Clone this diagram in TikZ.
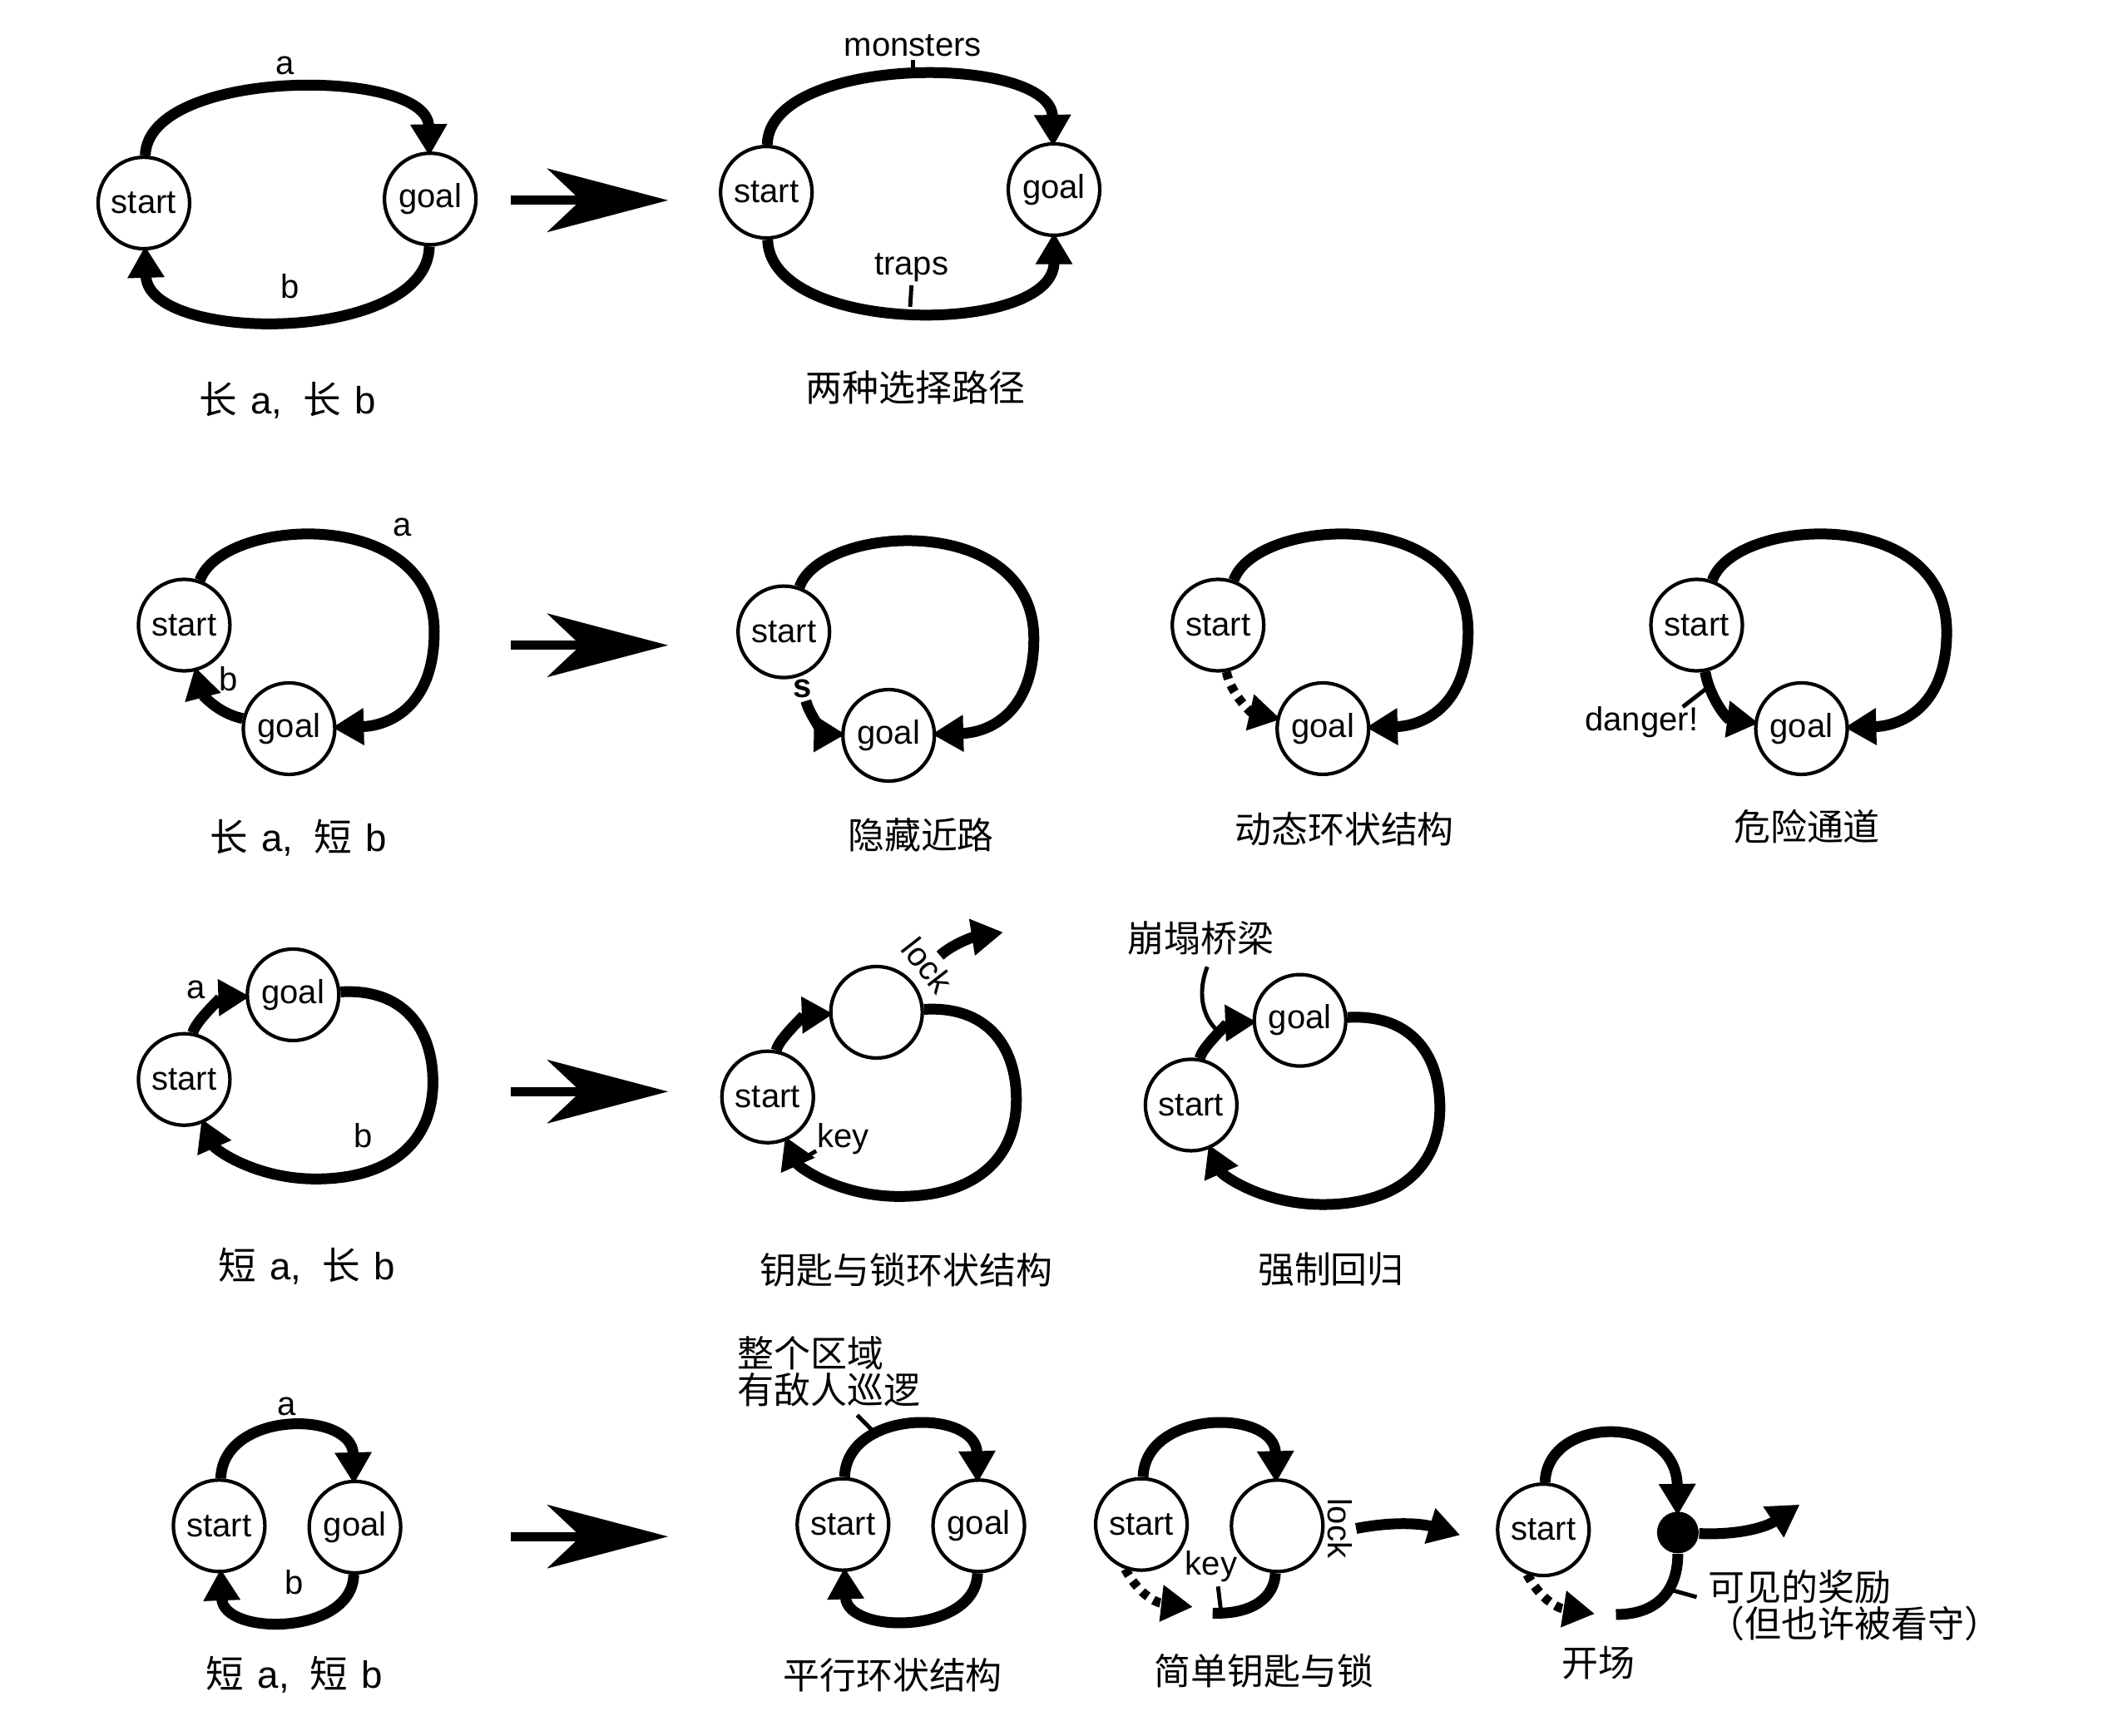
\documentclass[tikz,border=0pt]{standalone}
\usepackage{fontspec}
\setmainfont{Liberation Sans}
\newfontfamily\cjk{Noto Sans CJK SC}
\usetikzlibrary{arrows.meta}
\newcommand{\pairlabel}[2]{{\cjk #1}\hspace{0.35em}a,\hspace{0.55em}{\cjk #2}\hspace{0.35em}b}

\begin{document}
\begin{tikzpicture}[x=0.01616cm, y=-0.01616cm,
    room/.style={circle, draw, line width=1.2pt, minimum size=1.1cm, inner sep=0pt, fill=white, font=\fontsize{11.4}{13}\selectfont},
    treasure/.style={circle, fill=black, minimum size=0.5cm, inner sep=0pt},
    lbl/.style={inner sep=1pt, font=\fontsize{11.4}{13}\selectfont},
    subcap/.style={inner sep=1pt, font=\cjk\fontsize{12.5}{12.5}\selectfont},
    pairs/.style={inner sep=1pt, font=\fontsize{13}{14}\selectfont},
    trail/.style={line width=0.13cm},
    route/.style={trail, shorten >=-1.5pt, -{Triangle[length=0.38cm,width=0.42cm]}},
    dotroute/.style={route, line width=0.11cm, dash pattern=on 0.09cm off 0.08cm},
    leader/.style={line width=1.4pt},
    bigarrow/.style={line width=0.11cm, -{Stealth[length=1.45cm,width=0.76cm,inset=0.4cm]}}]
    \useasboundingbox (0,0) rectangle (1568,1291);

    % big arrows between the columns
    \foreach \y [count=\i] in {149,480,812,1143} {
        \coordinate (tail\i) at (380,\y);
        \coordinate (head\i) at (497,\y);
        \draw[bigarrow] (tail\i) -- (head\i);
    }

    % long a, long b
    \node[room] (start1) at (107,151) {start};
    \node[room] (goal1) at (320,148) {goal};
    \draw[route] (start1) .. controls (110,50) and (318,50) .. (goal1);
    \draw[route] (goal1) .. controls (318,256) and (110,256) .. (start1);
    \node[lbl] (la1) at (212,49) {a};
    \node[lbl] (lb1) at (216,213) {b};
    \node[pairs] (cap1) at (214,298) {\pairlabel{长}{长}};

    % two choices
    \node[room] (start2) at (570,143) {start};
    \node[room] (goal2) at (784,141) {goal};
    \draw[route] (start2) .. controls (572,40) and (782,40) .. (goal2);
    \draw[route] (start2) .. controls (573,250) and (784,250) .. (goal2);
    \node[lbl] (monsters) at (679,34) {monsters};
    \draw[leader] (monsters.south) -- ++(0,11);
    \node[lbl] (traps) at (678,199) {traps};
    \draw[leader] (traps.south) -- ++(-1,16);
    \node[subcap] (cap2) at (681,288) {两种选择路径};

    % long a, short b
    \node[room] (start3) at (137,465) {start};
    \node[room] (goal3) at (215,542) {goal};
    \draw[route] (start3) .. controls (165,385) and (323,375) .. (323,470) .. controls (323,525) and (290,540) .. (goal3);
    \draw[route] (goal3) .. controls (160,530) and (150,515) .. (start3);
    \node[lbl] (la3) at (299,392) {a};
    \node[lbl] (lb3) at (170,505) {b};
    \node[pairs] (cap3) at (222,623) {\pairlabel{长}{短}};

    % hidden shortcut
    \begin{scope}[shift={(446,5)}]
        \node[room] (start4) at (137,465) {start};
        \node[room] (goal4) at (215,542) {goal};
        \draw[route] (start4) .. controls (165,385) and (323,375) .. (323,470) .. controls (323,525) and (290,540) .. (goal4);
        \node[lbl, font=\fontsize{11.4}{13}\selectfont\bfseries] (secret4) at (151,507) {s};
        \draw[route] (secret4) .. controls (157,530) and (170,541) .. (goal4);
    \end{scope}
    \node[subcap] (cap4) at (685,621) {隐藏近路};

    % dynamic loop
    \begin{scope}[shift={(769,0)}]
        \node[room] (start5) at (137,465) {start};
        \node[room] (goal5) at (215,542) {goal};
        \draw[route] (start5) .. controls (165,385) and (323,375) .. (323,470) .. controls (323,525) and (290,540) .. (goal5);
        \draw[dotroute] (start5) .. controls (146,515) and (161,530) .. (goal5);
    \end{scope}
    \node[subcap] (cap5) at (1000,617) {动态环状结构};

    % dangerous passage
    \begin{scope}[shift={(1125,0)}]
        \node[room] (start6) at (137,465) {start};
        \node[room] (goal6) at (215,542) {goal};
        \draw[route] (start6) .. controls (165,385) and (323,375) .. (323,470) .. controls (323,525) and (290,540) .. (goal6);
        \draw[route] (start6) .. controls (147,520) and (160,535) .. (goal6);
        \node[lbl] (danger6) at (96,537) {danger!};
        \draw[leader] (danger6.north east) ++(-14,3) -- ++(18,-14);
    \end{scope}
    \node[subcap] (cap6) at (1344,615) {危险通道};

    % short a, long b
    \node[room] (start7) at (137,803) {start};
    \node[room] (goal7) at (218,740) {goal};
    \draw[route] (start7) .. controls (145,760) and (165,742) .. (goal7);
    \draw[route] (goal7) .. controls (300,735) and (322,765) .. (322,805) .. controls (322,850) and (290,877) .. (235,877) .. controls (190,877) and (160,855) .. (start7);
    \node[lbl] (la7) at (146,736) {a};
    \node[lbl] (lb7) at (270,845) {b};
    \node[pairs] (cap7) at (228,942) {\pairlabel{短}{长}};

    % key and lock loop
    \begin{scope}[shift={(434,13)}]
        \node[room] (start8) at (137,803) {start};
        \node[room] (lock8) at (218,740) {};
        \draw[route] (start8) .. controls (145,760) and (165,742) .. (lock8);
        \draw[route] (lock8) .. controls (300,735) and (322,765) .. (322,805) .. controls (322,850) and (290,877) .. (235,877) .. controls (190,877) and (160,855) .. (start8);
        \node[lbl, rotate=-52] (locktxt8) at (256,705) {lock};
        \coordinate (out8) at (309,681);
        \draw[route] (locktxt8.north) .. controls (275,689) and (290,684) .. (out8);
        \node[lbl] (key8) at (193,834) {key};
        \draw[leader] (key8.south west) ++(2,-5) -- ++(-14,8);
    \end{scope}
    \node[subcap] (cap8) at (674,945) {钥匙与锁环状结构};

    % forced return
    \begin{scope}[shift={(749,19)}]
        \node[room] (start9) at (137,803) {start};
        \node[room] (goal9) at (218,740) {goal};
        \draw[route] (start9) .. controls (145,760) and (165,742) .. (goal9);
        \draw[route] (goal9) .. controls (300,735) and (322,765) .. (322,805) .. controls (322,850) and (290,877) .. (235,877) .. controls (190,877) and (160,855) .. (start9);
    \end{scope}
    \node[subcap] (bridge9) at (893,698) {崩塌桥梁};
    \coordinate (fall9) at (907,768);
    \draw[leader] (bridge9.south) ++(5,6) .. controls (890,740) and (895,758) .. (fall9);
    \node[subcap] (cap9) at (990,944) {强制回归};

    % short a, short b
    \node[room] (start10) at (163,1135) {start};
    \node[room] (goal10) at (264,1136) {goal};
    \draw[route] (start10) .. controls (166,1049) and (262,1049) .. (goal10);
    \draw[route] (goal10) .. controls (262,1217) and (166,1217) .. (start10);
    \node[lbl] (la10) at (213,1046) {a};
    \node[lbl] (lb10) at (219,1177) {b};
    \node[pairs] (cap10) at (219,1246) {\pairlabel{短}{短}};

    % parallel loops
    \begin{scope}[shift={(464,-1)}]
        \node[room] (start11) at (163,1135) {start};
        \node[room] (goal11) at (264,1136) {goal};
        \draw[route] (start11) .. controls (166,1049) and (262,1049) .. (goal11);
        \draw[route] (goal11) .. controls (262,1217) and (166,1217) .. (start11);
    \end{scope}
    \node[subcap, align=left, anchor=west] (patrol11) at (546,1020) {整个区域\\有敌人巡逻};
    \draw[leader] (patrol11.south) ++(21,4) -- ++(16,16);
    \node[subcap] (cap11) at (664,1246) {平行环状结构};

    % simple key and lock
    \begin{scope}[shift={(686,-1)}]
        \node[room] (start12) at (163,1135) {start};
        \node[room] (lock12) at (264,1136) {};
        \draw[route] (start12) .. controls (166,1049) and (262,1049) .. (lock12);
    \end{scope}
    \node[lbl, rotate=-90] (locktxt12) at (997,1137) {lock};
    \coordinate (out12) at (1083,1141);
    \draw[route] (locktxt12.north) .. controls (1040,1131) and (1060,1134) .. (out12);
    \coordinate (keyend12) at (884,1195);
    \draw[dotroute] (start12.250) .. controls (846,1184) and (858,1192) .. (keyend12);
    \coordinate (hook12) at (902,1200);
    \draw[trail] (lock12) .. controls (948,1188) and (932,1201) .. (hook12);
    \node[lbl] (key12) at (901,1165) {key};
    \draw[leader] (key12.south) ++(5,1) -- ++(2,17);
    \node[subcap] (cap12) at (940,1243) {简单钥匙与锁};

    % opening
    \begin{scope}[shift={(985,3)}]
        \node[room] (start13) at (163,1135) {start};
        \node[treasure] (prize13) at (263,1137) {};
        \draw[route] (start13) .. controls (166,1049) and (262,1049) .. (prize13);
    \end{scope}
    \coordinate (out13) at (1336,1121);
    \draw[route] (prize13) .. controls (1290,1142) and (1312,1137) .. (out13);
    \coordinate (end13) at (1202,1201);
    \draw[trail] (prize13) .. controls (1248,1182) and (1234,1201) .. (end13);
    \coordinate (keyend13) at (1183,1200);
    \draw[dotroute] (start13.250) .. controls (1145,1188) and (1157,1196) .. (keyend13);
    \node[subcap, align=left, anchor=west] (reward13) at (1268,1194) {可见的奖励\\（但也许被看守）};
    \draw[leader] (reward13.west) ++(-6,-6) -- ++(-18,-5);
    \node[subcap] (cap13) at (1189,1237) {开场};
\end{tikzpicture}
\end{document}
